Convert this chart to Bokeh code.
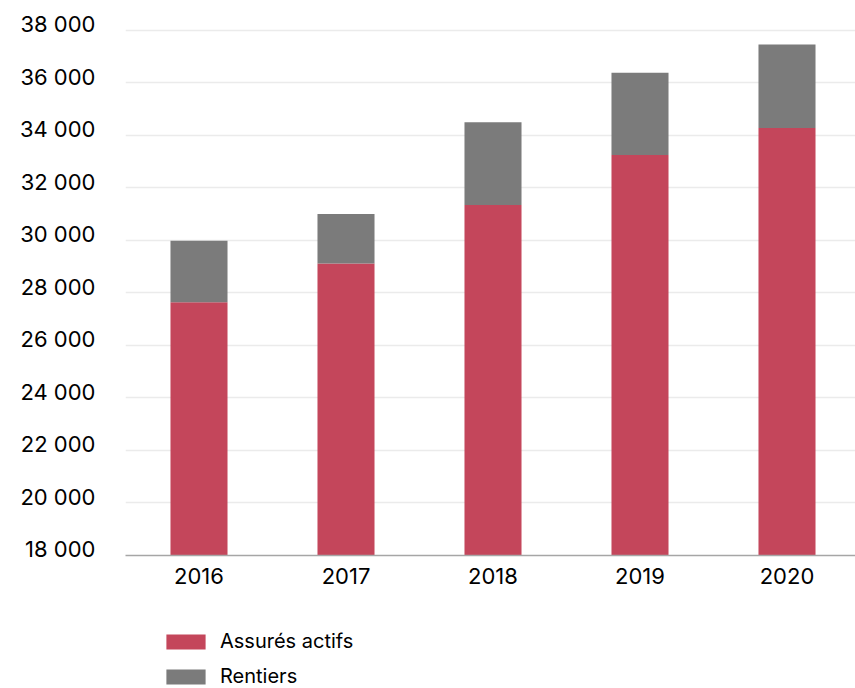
from bokeh.plotting import figure
from bokeh.models import Range1d, FixedTicker, ColumnDataSource
from bokeh.layouts import column
from bokeh.embed import file_html
from bokeh.resources import INLINE

# ---- data ----
years = ["2016", "2017", "2018", "2019", "2020"]
assures_actifs = [27650, 29120, 31350, 33250, 34280]
rentiers = [2340, 1890, 3155, 3140, 3180]
y_ticks = [18000, 20000, 22000, 24000, 26000, 28000, 30000, 32000, 34000, 36000, 38000]
y_tick_labels = ["18 000", "20 000", "22 000", "24 000", "26 000", "28 000",
                 "30 000", "32 000", "34 000", "36 000", "38 000"]
series_names = ["Assurés actifs", "Rentiers"]
colors = ["#C4465B", "#7B7B7B"]

FONT = "Inter"
Y0, Y1 = 18000, 38300
LABEL_SHIFT = 230  # lifts the y tick labels slightly above their grid lines
W = 855
H_CHART = 605
H_LEG = 83

xs = list(range(len(years)))
source = ColumnDataSource(dict(x=xs, actifs=assures_actifs, rentiers=rentiers))

p = figure(width=W, height=H_CHART, output_backend="svg", toolbar_location=None,
           x_range=Range1d(-0.5, -0.5 + 730 / 147), y_range=Range1d(Y0, Y1),
           min_border_left=125, min_border_right=0, min_border_top=22, min_border_bottom=50)
p.outline_line_color = None
p.extra_y_ranges = {"lbl": Range1d(Y0 - LABEL_SHIFT, Y1 - LABEL_SHIFT)}

p.vbar_stack(["actifs", "rentiers"], x="x", width=0.388, source=source,
             color=colors, line_color=None)

# axes
p.xaxis.ticker = FixedTicker(ticks=xs)
p.xaxis.major_label_overrides = {i: y for i, y in enumerate(years)}
p.xaxis.major_tick_line_color = None
p.xaxis.minor_tick_line_color = None
p.xaxis.major_tick_out = 0
p.xaxis.major_label_standoff = 12
p.xaxis.axis_line_color = "#a6a6a6"
p.xaxis.axis_line_width = 1.5
p.xaxis.major_label_text_font = FONT
p.xaxis.major_label_text_font_size = "22px"
p.xaxis.major_label_text_color = "#000000"

yax = p.yaxis[0]
yax.y_range_name = "lbl"
yax.ticker = FixedTicker(ticks=y_ticks)
yax.major_label_overrides = dict(zip(y_ticks, y_tick_labels))
yax.axis_line_color = None
yax.major_tick_line_color = None
yax.minor_tick_line_color = None
yax.major_tick_out = 0
yax.major_label_standoff = 30
yax.major_label_text_font = FONT
yax.major_label_text_font_size = "22px"
yax.major_label_text_color = "#000000"

p.ygrid.ticker = FixedTicker(ticks=y_ticks)
p.xgrid.grid_line_color = None
p.ygrid.grid_line_color = "#ebebeb"
p.ygrid.grid_line_width = 1.5

# ---- legend (own strip below the chart; its bars have no width and lie off-range) ----
pl = figure(width=W, height=H_LEG, output_backend="svg", toolbar_location=None,
            x_axis_type=None, y_axis_type=None, min_border=0,
            x_range=Range1d(-100, -99), y_range=Range1d(1e6, 1e6 + 1))
pl.outline_line_color = None
pl.grid.grid_line_color = None
pl.vbar_stack(["actifs", "rentiers"], x="x", width=0, source=source,
              color=colors, line_color=None, legend_label=series_names)

lg = pl.legend[0]
lg.location = (36, 0)
lg.orientation = "vertical"
lg.padding = 0
lg.margin = 0
lg.border_line_color = None
lg.background_fill_alpha = 0
lg.glyph_width = 49
lg.glyph_height = 19
lg.label_standoff = 10
lg.label_height = 15
lg.spacing = 11
lg.label_text_font = FONT
lg.label_text_font_size = "20px"
lg.label_text_color = "#000000"

layout = column(p, pl, spacing=0)
open("out.html", "w").write(file_html(layout, INLINE))
